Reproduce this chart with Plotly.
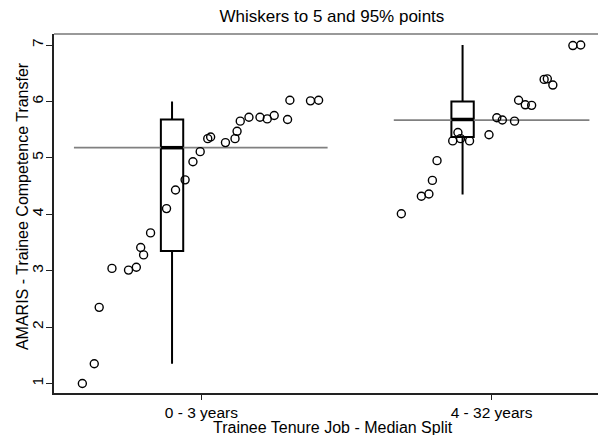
import plotly.graph_objects as go

# ---------------- data ----------------
categories = ["0 - 3 years", "4 - 32 years"]
cat_pos = [1, 2]

# group 1 (0 - 3 years): jittered x positions and scores
g1_x = [0.590, 0.631, 0.648, 0.692, 0.749, 0.776, 0.791, 0.801, 0.825, 0.880,
        0.911, 0.944, 0.971, 0.996, 1.022, 1.032, 1.083, 1.116, 1.123, 1.134,
        1.164, 1.202, 1.227, 1.251, 1.297, 1.305, 1.376, 1.404]
g1_y = [1.00, 1.35, 2.35, 3.04, 3.01, 3.06, 3.41, 3.28, 3.67, 4.10,
        4.43, 4.61, 4.93, 5.11, 5.34, 5.37, 5.27, 5.34, 5.47, 5.65,
        5.72, 5.72, 5.69, 5.75, 5.68, 6.02, 6.01, 6.02]

# group 2 (4 - 32 years)
g2_x = [1.689, 1.758, 1.784, 1.796, 1.812, 1.866, 1.884, 1.893, 1.924, 1.991,
        2.018, 2.037, 2.079, 2.093, 2.116, 2.138, 2.181, 2.192, 2.211, 2.280,
        2.307]
g2_y = [4.01, 4.32, 4.36, 4.60, 4.95, 5.30, 5.45, 5.34, 5.30, 5.41,
        5.71, 5.67, 5.65, 6.02, 5.94, 5.93, 6.39, 6.40, 6.29, 6.99,
        7.00]

# box summaries (whiskers to 5 and 95% points)
box_pos = [0.899, 1.900]
box_width = 0.077
box_q1 = [3.35, 5.37]
box_med = [5.18, 5.68]
box_q3 = [5.68, 6.00]
box_p5 = [1.35, 4.35]
box_p95 = [6.00, 7.00]

# horizontal reference lines per group
ref_val = [5.18, 5.67]
ref_from = [0.561, 1.663]
ref_to = [1.435, 2.337]

ytick_vals = [1, 2, 3, 4, 5, 6, 7]

FONT = "Liberation Sans, Arial, sans-serif"

fig = go.Figure()

# reference lines
for v, a, b in zip(ref_val, ref_from, ref_to):
    fig.add_trace(go.Scatter(x=[a, b], y=[v, v], mode="lines",
                             line=dict(color="#808080", width=1.8),
                             hoverinfo="skip", showlegend=False))

# boxes
fig.add_trace(go.Box(
    x=box_pos, q1=box_q1, median=box_med, q3=box_q3,
    lowerfence=box_p5, upperfence=box_p95,
    width=box_width, whiskerwidth=0,
    line=dict(color="black", width=2),
    fillcolor="rgba(0,0,0,0)", boxpoints=False,
    hoverinfo="skip", showlegend=False))

# thick medians
for p, m in zip(box_pos, box_med):
    fig.add_trace(go.Scatter(x=[p - box_width / 2, p + box_width / 2], y=[m, m],
                             mode="lines", line=dict(color="black", width=3.5),
                             hoverinfo="skip", showlegend=False))

# points
for xs, ys in [(g1_x, g1_y), (g2_x, g2_y)]:
    fig.add_trace(go.Scatter(x=xs, y=ys, mode="markers",
                             marker=dict(symbol="circle-open", size=8,
                                         color="black", line=dict(width=1.4)),
                             hoverinfo="skip", showlegend=False))

fig.update_layout(
    width=598, height=435,
    margin=dict(l=54, r=0, t=34, b=42, autoexpand=False),
    paper_bgcolor="white", plot_bgcolor="white",
    font=dict(family=FONT, size=15.5, color="black"),
    title=dict(text="Whiskers to 5 and 95% points", x=0.555, xanchor="center",
               y=0.962, yanchor="middle", font=dict(size=17)),
    showlegend=False,
)

fig.update_xaxes(
    range=[0.4923, 2.3666], tickvals=cat_pos, ticktext=categories,
    showline=True, linecolor="#222", linewidth=1.5,
    ticks="outside", ticklen=5, tickcolor="#222", tickwidth=1,
    showgrid=False, zeroline=False, automargin=False,
)

fig.update_yaxes(
    range=[0.832, 7.195], tickvals=ytick_vals, tickangle=-90,
    showline=True, linecolor="#222", linewidth=1.5,
    ticks="outside", ticklen=6, tickcolor="#222", tickwidth=1,
    ticklabelstandoff=-3,
    showgrid=False, zeroline=False, automargin=False,
)

# top border
fig.add_shape(type="line", xref="paper", yref="paper", x0=0, x1=1, y0=1, y1=1,
              line=dict(color="#777", width=1.5))

# x-axis title
fig.add_annotation(text="Trainee Tenure Job - Median Split",
                   xref="paper", yref="paper", x=0.512, y=-0.095,
                   xanchor="center", yanchor="middle",
                   showarrow=False, font=dict(size=16))

# y-axis title
fig.add_annotation(text="AMARIS - Trainee Competence Transfer",
                   xref="paper", yref="paper", x=-0.058, y=0.522,
                   xanchor="center", yanchor="middle", textangle=-90,
                   showarrow=False, font=dict(size=16))

fig.write_html(
    "out.html",
    config={"displayModeBar": False},
    post_script="document.body.style.margin='0';document.body.style.overflow='hidden';",
)
